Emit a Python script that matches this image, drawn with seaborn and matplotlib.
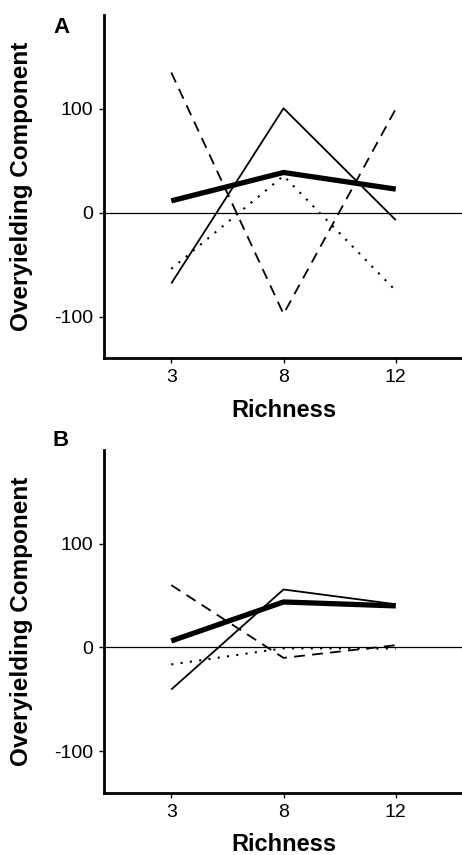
import pandas as pd
import matplotlib
matplotlib.use('Agg')
import matplotlib.pyplot as plt
import seaborn as sns

# Richness levels (categorical x axis)
richness = ['3', '8', '12']

# Panel A values
a_total = [11.5, 38.8, 22.8]
a_comp1 = [-68, 100.6, -7]
a_comp2 = [135, -97.4, 100]
a_comp3 = [-54, 35.6, -75]

# Panel B values
b_total = [6.3, 43.8, 40]
b_comp1 = [-40.4, 55.8, 41.6]
b_comp2 = [60, -10, 2.2]
b_comp3 = [-16.3, -0.8, -1]

sns.set_theme(style="white")
plt.rcParams['font.family'] = ['Liberation Sans', 'DejaVu Sans']
plt.rcParams['text.color'] = 'black'
plt.rcParams['axes.labelcolor'] = 'black'

# line styles per series: (linewidth, dashes)
styles = {
    'total': (3.8, None),
    'comp1': (1.3, None),
    'comp2': (1.3, (6, 4)),
    'comp3': (1.5, (1, 3.5)),
}

fig = plt.figure(figsize=(4.62, 8.55), dpi=100)
ax_a = fig.add_axes([0.225, 0.581, 0.775, 0.401])
ax_b = fig.add_axes([0.225, 0.0725, 0.775, 0.4012])

panels = [
    (ax_a, 'A', 0.9614, {'total': a_total, 'comp1': a_comp1, 'comp2': a_comp2, 'comp3': a_comp3}),
    (ax_b, 'B', 0.4784, {'total': b_total, 'comp1': b_comp1, 'comp2': b_comp2, 'comp3': b_comp3}),
]

for ax, letter, ly, series in panels:
    ax.axhline(0, color='black', lw=0.9, zorder=1)
    for name, vals in series.items():
        df = pd.DataFrame({'Richness': richness, 'value': vals})
        lw, dashes = styles[name]
        sns.lineplot(data=df, x='Richness', y='value', sort=False,
                     color='black', linewidth=lw, ax=ax, zorder=3)
        if dashes is not None:
            ax.lines[-1].set_dashes(dashes)
        ax.lines[-1].set_solid_capstyle('butt')

    ax.set_xlim(-0.6, 2.59)
    ax.set_ylim(-140, 190)
    ax.set_yticks([-100, 0, 100])
    ax.set_yticklabels(['-100', '0', '100'])
    ax.set_xticks([0, 1, 2])
    ax.set_xticklabels(richness)
    sns.despine(ax=ax)
    for sp in ['left', 'bottom']:
        ax.spines[sp].set_linewidth(2.0)
        ax.spines[sp].set_color('black')
    ax.tick_params(axis='both', which='both', direction='out', length=3.6, width=1,
                   colors='black', labelcolor='black', labelsize=14, pad=4,
                   left=True, bottom=True)
    ax.set_xlabel('Richness', fontsize=17, fontweight='bold')
    ax.set_ylabel('Overyielding Component', fontsize=17.5, fontweight='bold')
    ax.xaxis.set_label_coords(0.504, -0.118)
    ax.yaxis.set_label_coords(-0.198, 0.5)
    fig.text(0.1147, ly, letter, fontsize=16, fontweight='bold',
             va='baseline', ha='left')

fig.savefig('out.png', dpi=100)
